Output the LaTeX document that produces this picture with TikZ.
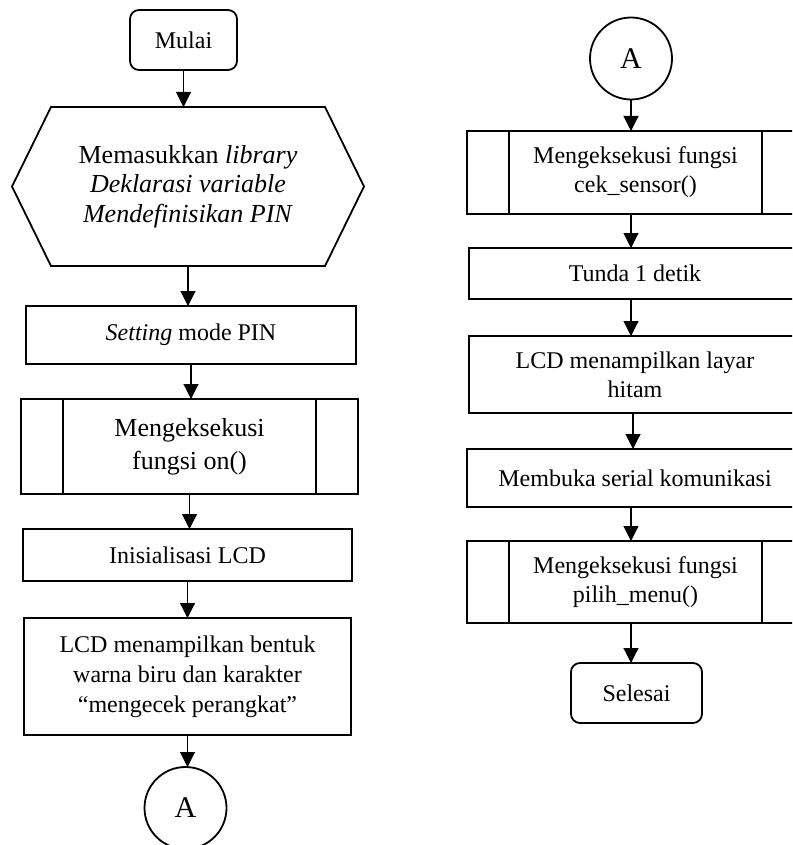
\documentclass[tikz,border=0pt]{standalone}
\usepackage{fontspec}
\setmainfont{Liberation Serif}
\usetikzlibrary{arrows.meta}
\begin{document}
\begin{tikzpicture}[x=1pt,y=-1pt,
  box/.style={draw,line width=1.8pt,inner sep=0pt,outer sep=0pt,align=center,
    font=\fontsize{24}{29}\selectfont},
  term/.style={box,rounded corners=9pt},
  procbox/.style={box},
  subbox/.style={box},
  hexbox/.style={inner sep=0pt,outer sep=0pt,align=center,
    font=\fontsize{26}{29.5}\selectfont},
  conn/.style={draw,circle,line width=1.8pt,inner sep=0pt,outer sep=0pt,
    minimum size=82pt,font=\fontsize{30}{30}\selectfont},
  arr/.style={line width=1.1pt,-{Triangle[length=15pt,width=15pt]}}]
\useasboundingbox (0,0) rectangle (792,845);
\clip (0,0) rectangle (792,845);

% left column
\node[term,minimum width=107pt,minimum height=60pt] (mulai) at (183.5,40) {Mulai};
\node[hexbox,minimum width=352pt,minimum height=159pt] (prep) at (188,186.5)
  {Memasukkan \textit{library}\\ \textit{Deklarasi variable}\\ \textit{Mendefinisikan PIN}};
\draw[line width=1.8pt,line join=miter] (prep.west) -- ([xshift=39pt]prep.north west)
  -- ([xshift=-39pt]prep.north east) -- (prep.east)
  -- ([xshift=-39pt]prep.south east) -- ([xshift=39pt]prep.south west) -- cycle;
\node[procbox,minimum width=330pt,minimum height=58pt] (setmode) at (191,335)
  {\textit{Setting} mode PIN};
\node[subbox,minimum width=337pt,minimum height=95pt,
  font=\fontsize{26}{33}\selectfont] (on) at (189.5,446.5)
  {Mengeksekusi\\ fungsi on()};
\node[procbox,minimum width=329pt,minimum height=52pt] (lcdinit) at (187.5,555)
  {Inisialisasi LCD};
\node[procbox,minimum width=327pt,minimum height=117pt,
  font=\fontsize{24}{30}\selectfont] (lcdblue) at (187.5,676.5)
  {LCD menampilkan bentuk\\ warna biru dan karakter\\ “mengecek perangkat”};
\node[conn] (aout) at (185.5,808) {A};

% right column
\node[conn] (ain) at (631,58.5) {A};
\node[subbox,minimum width=337pt,minimum height=83pt] (ceksensor) at (635.5,172.5)
  {Mengeksekusi fungsi\\ cek\_sensor()};
\node[procbox,minimum width=332pt,minimum height=51pt] (tunda) at (635,273.5)
  {Tunda 1 detik};
\node[procbox,minimum width=332pt,minimum height=77pt] (lcdblack) at (635,374.5)
  {LCD menampilkan layar\\ hitam};
\node[procbox,minimum width=336pt,minimum height=58pt] (serial) at (635,478)
  {Membuka serial komunikasi};
\node[subbox,minimum width=337pt,minimum height=82pt] (menu) at (635.5,582)
  {Mengeksekusi fungsi\\ pilih\_menu()};
\node[term,minimum width=131pt,minimum height=60pt] (selesai) at (636.5,693) {Selesai};

% inner side bars of the subroutine boxes
\foreach \n in {on,ceksensor,menu}{
  \draw[line width=1.8pt] ([xshift=42pt]\n.north west) -- ([xshift=42pt]\n.south west);
  \draw[line width=1.8pt] ([xshift=-42pt]\n.north east) -- ([xshift=-42pt]\n.south east);
}

% connectors
\draw[arr] (mulai.south) -- (mulai.south |- prep.north);
\draw[arr] (prep.south) -- (prep.south |- setmode.north);
\draw[arr] (setmode.south) -- (setmode.south |- on.north);
\draw[arr] (on.south) -- (on.south |- lcdinit.north);
\draw[arr] (lcdinit.south) -- (lcdinit.south |- lcdblue.north);
\draw[arr] (lcdblue.south) -- (lcdblue.south |- aout.north);

\draw[arr] (ain.south) -- (ain.south |- ceksensor.north);
\draw[arr] (ain.south |- ceksensor.south) -- (ain.south |- tunda.north);
\draw[arr] (ain.south |- tunda.south) -- (ain.south |- lcdblack.north);
\draw[arr] ([xshift=2pt]ain.south |- lcdblack.south) -- ([xshift=2pt]ain.south |- serial.north);
\draw[arr] (ain.south |- serial.south) -- (ain.south |- menu.north);
\draw[arr] (ain.south |- menu.south) -- (ain.south |- selesai.north);
\end{tikzpicture}
\end{document}
